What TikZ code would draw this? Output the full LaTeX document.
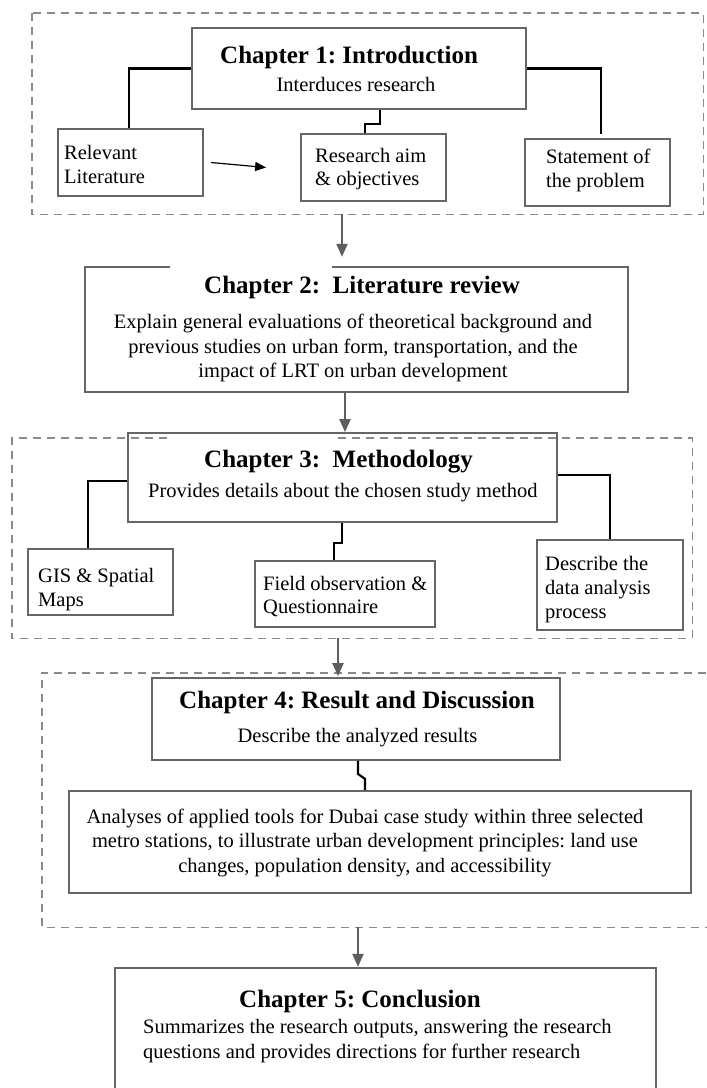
\documentclass[tikz,border=0pt]{standalone}
\usepackage{fontspec}
\setmainfont{Liberation Serif}
\usetikzlibrary{arrows.meta}
\definecolor{boxgray}{HTML}{666666}
\definecolor{dashgray}{HTML}{8A8A8A}
\definecolor{arrgray}{HTML}{5E5E5E}
\frenchspacing
\begin{document}
\begin{tikzpicture}[x=1pt,y=-1pt,
  box/.style={draw=boxgray,line width=1.8pt,rectangle,inner sep=0pt},
  openbox/.style={draw=none,rectangle,inner sep=0pt},
  boxline/.style={draw=boxgray,line width=1.8pt},
  frame/.style={draw=dashgray,line width=1.4pt,dash pattern=on 8pt off 6pt},
  link/.style={draw=black,line width=2.2pt},
  garrow/.style={draw=arrgray,line width=2.2pt,-{Triangle[length=13pt,width=11pt,fill=arrgray]}},
  thinarrow/.style={draw=black,line width=1.2pt,-{Triangle[length=11pt,width=9pt]}},
  ttl/.style={font=\fontsize{25}{30}\selectfont\bfseries,inner sep=0pt,anchor=base west},
  txt/.style={font=\fontsize{20.5}{24.5}\selectfont,inner sep=0pt},
  txtl/.style={txt,anchor=base west},
  txtc/.style={txt,anchor=base}]
\useasboundingbox[fill=white] (0,0) rectangle (707,1088);

% ---------- Chapter 1 group ----------
\node[openbox,minimum width=671pt,minimum height=201pt] (f1) at (367.5,113.5) {};
\draw[frame] (f1.north west) rectangle (f1.south east);
\node[box,minimum width=334pt,minimum height=81pt] (ch1) at (359,68.5) {};
\node[box,minimum width=145pt,minimum height=67pt] (rel) at (130.5,162.5) {};
\node[box,minimum width=145pt,minimum height=67pt] (res) at (373.5,167.5) {};
\node[box,minimum width=145pt,minimum height=67pt] (sta) at (597.5,172.5) {};

\node[ttl] (ch1t) at (220,63) {Chapter 1: Introduction};
\node[txtc] (ch1s) at (356,91) {Interduces research};
\node[txtl] (rel1) at (64,159) {Relevant};
\node[txtl] (rel2) at (64,183) {Literature};
\node[txtl] (res1) at (315,162) {Research aim};
\node[txtl] (res2) at (315,185) {\& objectives};
\node[txtl] (sta1) at (546,163) {Statement of};
\node[txtl] (sta2) at (546,187) {the problem};

\draw[link] (ch1.west) -| ([xshift=-1.5pt]rel.north);
\draw[link] (ch1.east) -| ([xshift=3.5pt,yshift=4pt]sta.north);
\draw[link] ([xshift=21pt]ch1.south) -- ++(0,14) -| ([xshift=-8.5pt]res.north);
\draw[thinarrow] ([xshift=7pt]rel.east) -- ([xshift=-34pt]res.west);

% ---------- Chapter 2 ----------
\node[openbox,minimum width=543pt,minimum height=125pt] (ch2) at (356.5,329.5) {};
\draw[boxline] ([xshift=85pt]ch2.north west) -- (ch2.north west) -- (ch2.south west)
  -- (ch2.south east) -- (ch2.north east) -- ([xshift=-296pt]ch2.north east);
\node[ttl] (ch2t) at (204,293) {Chapter 2:\ \ Literature review};
\node[txtc] (ch2a) at (353,328) {Explain general evaluations of theoretical background and};
\node[txtc] (ch2b) at (353,353) {previous studies on urban form, transportation, and the};
\node[txtc] (ch2c) at (353,377) {impact of LRT on urban development};

\draw[garrow] ([xshift=-25.5pt]f1.south) -- ([xshift=-14.5pt,yshift=10pt]ch2.north);

% ---------- Chapter 3 group ----------
\node[openbox,minimum width=680pt,minimum height=200pt] (f3) at (352,538) {};
\draw[frame] ([xshift=155pt]f3.north west) -- (f3.north west) -- (f3.south west)
  -- (f3.south east) -- (f3.north east) -- ([xshift=-359pt]f3.north east);
\node[box,minimum width=429pt,minimum height=89pt] (ch3) at (342.5,477.5) {};
\node[box,minimum width=145pt,minimum height=66pt] (gis) at (100.5,582) {};
\node[box,minimum width=180pt,minimum height=66pt] (fld) at (345,594) {};
\node[box,minimum width=146pt,minimum height=90pt] (des) at (610,585) {};

\node[ttl] (ch3t) at (204,467) {Chapter 3:\ \ Methodology};
\node[txtl] (ch3s) at (148,497) {Provides details about the chosen study method};
\node[txtl] (gis1) at (38,582) {GIS \& Spatial};
\node[txtl] (gis2) at (38,606) {Maps};
\node[txtl] (fld1) at (263,590) {Field observation \&};
\node[txtl] (fld2) at (263,613) {Questionnaire};
\node[txtl] (des1) at (545,570) {Describe the};
\node[txtl] (des2) at (545,594) {data analysis};
\node[txtl] (des3) at (545,618) {process};

\draw[garrow] ([xshift=-11.5pt]ch2.south) -- ([xshift=2.5pt]ch3.north);
\draw[link] ([yshift=-3.5pt]ch3.west) -| ([xshift=-12.5pt]gis.north);
\draw[link] ([yshift=2.5pt]ch3.east) -| (des.north);
\draw[link] ([xshift=-0.5pt]ch3.south) -- ++(0,20) -| ([xshift=-11pt]fld.north);

% ---------- Chapter 4 group ----------
\node[openbox,minimum width=678pt,minimum height=254pt] (f4) at (381,800) {};
\draw[frame] (f4.north east) -- (f4.north west) -- (f4.south west) -- (f4.south east);
\node[box,minimum width=408pt,minimum height=82pt] (ch4) at (356,719) {};
\node[box,minimum width=622pt,minimum height=102pt] (ana) at (380,842) {};

\node[ttl] (ch4t) at (179,708) {Chapter 4: Result and Discussion};
\node[txtc] (ch4s) at (357.5,742) {Describe the analyzed results};
\node[txtc] (ana1) at (365,823) {Analyses of applied tools for Dubai case study within three selected};
\node[txtc] (ana2) at (365,847) {metro stations, to illustrate urban development principles: land use};
\node[txtc] (ana3) at (365,872) {changes, population density, and accessibility};

\draw[garrow] ([xshift=-14pt]f3.south) -- ([xshift=-18pt,yshift=1pt]ch4.north);
\draw[link] ([xshift=2pt]ch4.south) -- ++(0,13) -- ++(7,5) -- ([xshift=-15pt]ana.north);

% ---------- Chapter 5 ----------
\node[openbox,minimum width=541pt,minimum height=122pt] (ch5) at (385.5,1029) {};
\draw[boxline] (ch5.south west) -- (ch5.north west) -- (ch5.north east) -- (ch5.south east);
\node[ttl] (ch5t) at (239,1007) {Chapter 5: Conclusion};
\node[txtl] (ch5a) at (143,1033) {Summarizes the research outputs, answering the research};
\node[txtl] (ch5b) at (143,1058) {questions and provides directions for further research};

\draw[garrow] ([xshift=-23pt]f4.south) -- ([xshift=-27.5pt,yshift=1pt]ch5.north);
\end{tikzpicture}
\end{document}
